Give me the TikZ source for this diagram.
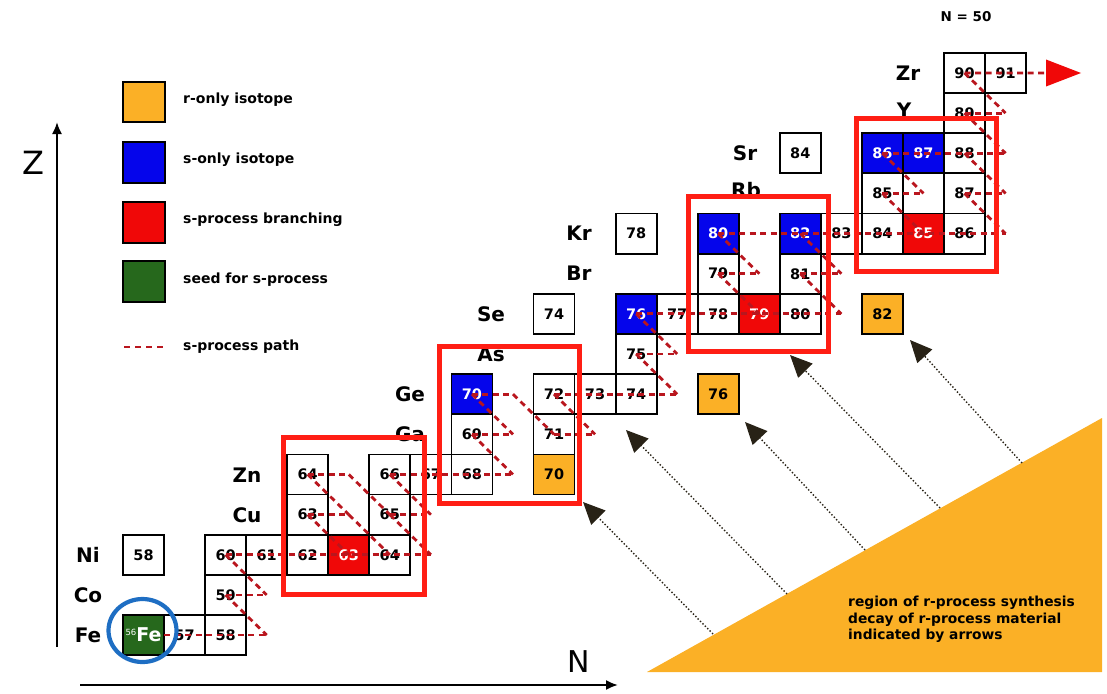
\documentclass[tikz,border=0pt]{standalone}
\usepackage{fontspec}
\setmainfont{DejaVu Sans}
\usetikzlibrary{arrows.meta}
\definecolor{ronly}{RGB}{251,176,38}
\definecolor{sonly}{RGB}{5,5,235}
\definecolor{branch}{RGB}{240,8,8}
\definecolor{seed}{RGB}{38,104,28}
\definecolor{spath}{RGB}{185,22,30}
\definecolor{hilite}{RGB}{255,30,20}
\definecolor{ring}{RGB}{30,110,195}
\definecolor{arrowdark}{RGB}{40,34,22}
\newcommand\isocell[4]{%
  \pgfmathsetmacro\cellx{143.525+(#1-30)*41.05}%
  \pgfmathsetmacro\celly{635.075-(#2-26)*40.15}%
  \pgfmathtruncatemacro\cellA{#1+#2}%
  \node[cellbox, fill=#3, text=#4] (c#1-#2) at (\cellx,\celly) {\cellA};}
\begin{document}
\begin{tikzpicture}[x=1pt,y=-1pt,
  cellbox/.style={draw=black, line width=1.8pt, minimum width=41.05pt, minimum height=40.15pt,
    inner sep=0pt, outer sep=0pt, font=\bfseries\fontsize{14.5}{15}\selectfont},
  legbox/.style={draw=black, line width=1.8pt, minimum width=42pt, minimum height=40.5pt, inner sep=0pt},
  elem/.style={font=\bfseries\fontsize{20}{22}\selectfont, inner sep=0pt},
  spathline/.style={draw=spath, line width=2.8pt, dash pattern=on 6pt off 4.5pt},
  hibox/.style={draw=hilite, line width=5pt},
  decayarrow/.style={draw=arrowdark, line width=1.4pt, dotted, -{Triangle[length=22pt,width=20pt]}},
  legtext/.style={font=\bfseries\fontsize{14}{16}\selectfont, anchor=west, inner sep=0pt},
  axisline/.style={line width=2pt, -{Latex[length=12pt,width=10pt]}}
]
\useasboundingbox (0,0) rectangle (1107,693);

% ---------- axes ----------
\coordinate (zbot) at (57,647);
\coordinate (ztop) at (57,122);
\draw[axisline] (zbot) -- (ztop);
\node[font=\fontsize{32}{34}\selectfont, inner sep=0pt] (zlabel) at (33,163) {Z};
\coordinate (nleft) at (80,685);
\coordinate (nright) at (618,685);
\draw[axisline] (nleft) -- (nright);
\node[font=\fontsize{30}{32}\selectfont, inner sep=0pt] (nlabel) at (579,662) {N};

% ---------- legend ----------
\node[legbox, fill=ronly] (lr) at (144,102) {};
\node[legbox, fill=sonly] (ls) at (144,162.5) {};
\node[legbox, fill=branch] (lb) at (144,222.5) {};
\node[legbox, fill=seed] (lg) at (144,281.5) {};
\node[legtext] (tr) at (183,100) {r-only isotope};
\node[legtext] (ts) at (183,160) {s-only isotope};
\node[legtext] (tb) at (183,220) {s-process branching};
\node[legtext] (tg) at (183,280) {seed for s-process};
\coordinate (lp1) at (124,347);
\coordinate (lp2) at (165,347);
\draw[spathline, dash pattern=on 6pt off 5pt] (lp1) -- (lp2);
\node[legtext] (tp) at (183,347) {s-process path};

\node[font=\bfseries\fontsize{13.5}{15}\selectfont, inner sep=0pt] (n50) at (966,17) {N = 50};

% ---------- r-process region ----------
\coordinate (ra) at (647,672);
\coordinate (rb) at (1102,418);
\coordinate (rc) at (1102,672);
\fill[ronly] (ra) -- (rb) -- (rc) -- cycle;
\node[anchor=north west, align=left, font=\bfseries\fontsize{13.8}{16.5}\selectfont, inner sep=0pt]
  (rtext) at (848,596) {region of r-process synthesis\\decay of r-process material\\indicated by arrows};

% ---------- isotope cells ----------
\foreach \n/\z in {31/26,32/26, 32/27, 30/28,32/28,33/28,34/28,36/28, 34/29,36/29,
  34/30,36/30,37/30,38/30, 38/31,40/31, 40/32,41/32,42/32, 42/33,
  40/34,43/34,44/34,46/34, 44/35,46/35, 42/36,47/36,48/36,50/36,
  48/37,50/37, 46/38,50/38, 50/39, 50/40,51/40}
  {\isocell{\n}{\z}{white}{black}}
\isocell{40}{30}{ronly}{black}
\isocell{44}{32}{ronly}{black}
\isocell{48}{34}{ronly}{black}
\isocell{38}{32}{sonly}{white}
\isocell{42}{34}{sonly}{white}
\isocell{44}{36}{sonly}{white}
\isocell{46}{36}{sonly}{white}
\isocell{48}{38}{sonly}{white}
\isocell{49}{38}{sonly}{white}
\isocell{35}{28}{branch}{white}
\isocell{45}{34}{branch}{white}
\isocell{49}{36}{branch}{white}
\node[cellbox, fill=seed, text=white] (c30-26) at (143.525,635.075)
  {\raisebox{6pt}{\mdseries\fontsize{8.5}{9}\selectfont 56}\fontsize{19}{20}\selectfont Fe};

% ---------- element labels ----------
\node[elem] (eFe) at (88,635) {Fe};
\node[elem] (eCo) at (88,595) {Co};
\node[elem] (eNi) at (88,555) {Ni};
\node[elem] (eCu) at (247,515) {Cu};
\node[elem] (eZn) at (247,475) {Zn};
\node[elem] (eGa) at (410,434) {Ga};
\node[elem] (eGe) at (410,394) {Ge};
\node[elem] (eAs) at (491,354) {As};
\node[elem] (eSe) at (491,314) {Se};
\node[elem] (eBr) at (579,273) {Br};
\node[elem] (eKr) at (579,233) {Kr};
\node[elem] (eRb) at (746,190) {Rb};
\node[elem] (eSr) at (745,153) {Sr};
\node[elem] (eY) at (904,110) {Y};
\node[elem] (eZr) at (908,73) {Zr};

% ---------- path positions ----------
\foreach \n in {30,...,51} {
  \foreach \z in {26,...,40} {
    \coordinate (p\n-\z) at ({143.525+(\n-30)*41.05},{635.075-(\z-26)*40.15});
  }
}

% ---------- s-process path ----------
\coordinate (zarrow) at (1047,73);
\draw[spathline] (c30-26.east) -- (p33-26);
\draw[spathline] (p32-27) -- (p33-27);
\draw[spathline] (p32-28) -- (p37-28);
\draw[spathline] (p34-29) -- (p35-29);
\draw[spathline] (p36-29) -- (p37-29);
\draw[spathline] (p34-30) -- (p35-30);
\draw[spathline] (p36-30) -- (p39-30);
\draw[spathline] (p38-31) -- (p39-31);
\draw[spathline] (p40-31) -- (p41-31);
\draw[spathline] (p38-32) -- (p39-32);
\draw[spathline] (p40-32) -- (p43-32);
\draw[spathline] (p42-33) -- (p43-33);
\draw[spathline] (p42-34) -- (p47-34);
\draw[spathline] (p44-35) -- (p45-35);
\draw[spathline] (p46-35) -- (p47-35);
\draw[spathline] (p44-36) -- (p51-36);
\draw[spathline] (p48-37) -- (p49-37);
\draw[spathline] (p50-37) -- (p51-37);
\draw[spathline] (p48-38) -- (p51-38);
\draw[spathline] (p50-39) -- (p51-39);
\draw[spathline] (p50-40) -- (zarrow);
\foreach \n/\z in {32/27,32/28,34/29,34/30,35/29,35/30,36/29,36/30,38/31,38/32,39/32,40/32,
  42/33,42/34,44/35,44/36,46/35,46/36,48/37,48/38,50/37,50/38,50/39,50/40} {
  \pgfmathtruncatemacro\nn{\n+1}
  \pgfmathtruncatemacro\zz{\z-1}
  \draw[spathline] (p\n-\z) -- (p\nn-\zz);
}
\fill[branch] (1046,59.5) -- (1081,73) -- (1046,86.5) -- cycle;

% ---------- highlight boxes ----------
\draw[hibox] (283.5,437.5) rectangle (424.5,594);
\draw[hibox] (439,346.5) rectangle (579,503);
\draw[hibox] (688.5,196) rectangle (828.5,351);
\draw[hibox] (856.5,118.5) rectangle (996.5,271.5);

% ---------- seed ring ----------
\draw[ring, line width=4.2pt] (142.5,630.5) ellipse [x radius=34pt, y radius=31.5pt];

% ---------- decay arrows ----------
\coordinate (a1) at (713,634);  \coordinate (h1) at (583,502);
\coordinate (a2) at (787,594);  \coordinate (h2) at (626,430);
\coordinate (a3) at (865,550);  \coordinate (h3) at (745,422);
\coordinate (a4) at (940,508);  \coordinate (h4) at (790,355);
\coordinate (a5) at (1022,463); \coordinate (h5) at (910,340);
\foreach \i in {1,...,5} {\draw[decayarrow] (a\i) -- (h\i);}
\end{tikzpicture}
\end{document}
